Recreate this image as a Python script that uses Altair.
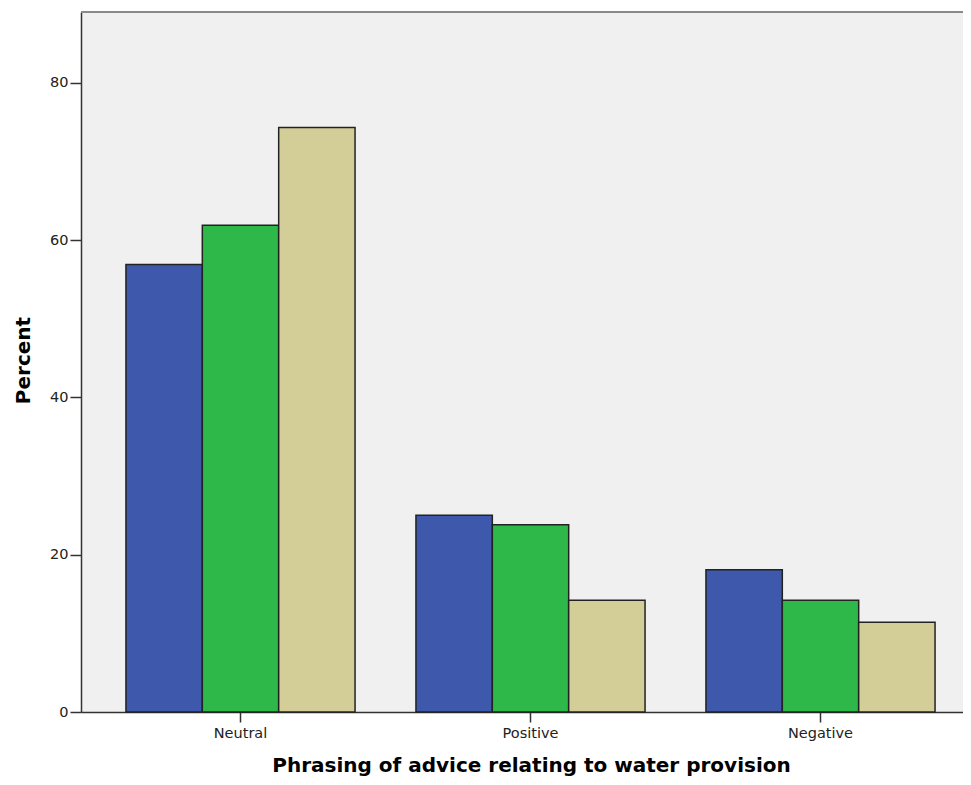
import altair as alt
import pandas as pd

categories = ["Neutral", "Positive", "Negative"]
groups = ["Group 1", "Group 2", "Group 3"]
group1 = [56.9, 25.0, 18.1]
group2 = [61.9, 23.8, 14.2]
group3 = [74.3, 14.2, 11.4]
colors = ["#3E58AC", "#2EB84A", "#D3CE97"]
y_ticks = [0, 20, 40, 60, 80]

rows = []
for g, vals in zip(groups, [group1, group2, group3]):
    for c, v in zip(categories, vals):
        rows.append({"category": c, "group": g, "percent": v})
df = pd.DataFrame(rows)

W = 882
H = 700

bars = alt.Chart(df).mark_bar(stroke="#222222", strokeWidth=1.5).encode(
    x=alt.X(
        "category:N",
        sort=categories,
        scale=alt.Scale(range=[0, 899], paddingInner=0.21, paddingOuter=0.155),
        axis=alt.Axis(
            title="Phrasing of advice relating to water provision",
            titleFont="DejaVu Sans", titleFontSize=20, titleFontWeight="bold",
            titleColor="#000000", titleX=450, titleY=59, titleBaseline="alphabetic",
            titleAnchor="middle", titleAlign="center",
            labelFont="DejaVu Sans", labelFontSize=14.5, labelColor="#222222",
            labelAngle=0, labelPadding=4, tickSize=10, tickColor="#333333",
            tickWidth=1.5, domainColor="#333333", domainWidth=1.5,
        ),
    ),
    xOffset=alt.XOffset("group:N", sort=groups,
                        scale=alt.Scale(paddingInner=0, paddingOuter=0)),
    y=alt.Y(
        "percent:Q",
        scale=alt.Scale(domain=[0, 89], nice=False),
        axis=alt.Axis(
            title="Percent", values=y_ticks, grid=False,
            titleFont="DejaVu Sans", titleFontSize=20, titleFontWeight="bold",
            titleColor="#000000", titleAngle=-90, titleX=-58, titleY=348,
            titleBaseline="middle", titleAlign="center",
            labelFont="DejaVu Sans", labelFontSize=14.5, labelColor="#222222",
            labelPadding=2, tickSize=11, tickColor="#333333", tickWidth=1.5,
            domainColor="#333333", domainWidth=1.5,
        ),
    ),
    color=alt.Color("group:N", scale=alt.Scale(domain=groups, range=colors), legend=None),
)

top_border = alt.Chart(pd.DataFrame({"k": [0]})).mark_rule(
    color="#8A8A8A", strokeWidth=2
).encode(y=alt.value(0), x=alt.value(0), x2=alt.value(W))

chart = alt.layer(bars, top_border).properties(
    width=W,
    height=H,
    padding={"left": 73, "top": 4, "right": 0, "bottom": 65},
    autosize=alt.AutoSizeParams(type="none"),
    background="white",
).configure_view(fill="#F0F0F0", strokeWidth=0)

chart.save("out.html", embed_options={"renderer": "svg", "actions": False})
